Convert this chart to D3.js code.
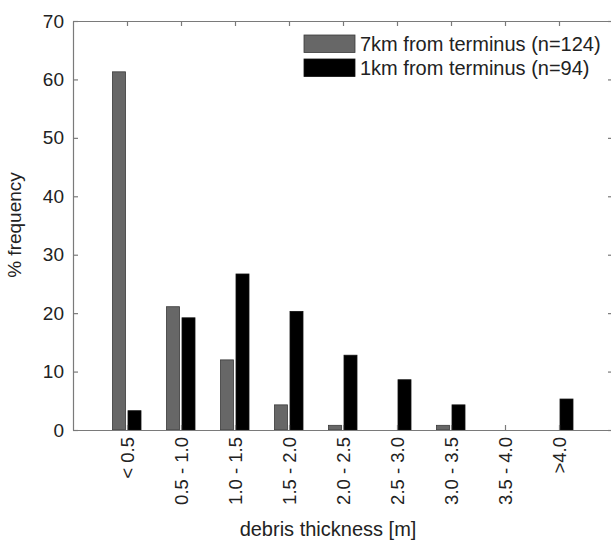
<!DOCTYPE html>
<html>
<head>
<meta charset="utf-8">
<script src="https://cdn.jsdelivr.net/npm/d3@7"></script>
<style>
  body { margin: 0; background: #fff; }
  text { font-family: "Liberation Sans", Arial, Helvetica, sans-serif; fill: #222; }
</style>
</head>
<body>
<div id="chart"></div>
<script>
var categories = ["< 0.5", "0.5 - 1.0", "1.0 - 1.5", "1.5 - 2.0", "2.0 - 2.5", "2.5 - 3.0", "3.0 - 3.5", "3.5 - 4.0", ">4.0"];
var series_7km = [61.3, 21.1, 12.0, 4.3, 0.8, 0, 0.8, 0, 0];
var series_1km = [3.3, 19.2, 26.7, 20.3, 12.8, 8.6, 4.3, 0, 5.3];
var series_names = ["7km from terminus (n=124)", "1km from terminus (n=94)"];
var y_ticks = [0, 10, 20, 30, 40, 50, 60, 70];

var axis_color = '#7a7a7a';
var fill_grey = '#676767';
var fill_black = '#000';

var width = 611, height = 543;
var plot_left = 73, plot_right = 613, plot_top = 21, plot_bottom = 430;
var bar_w = 13;

var svg = d3.select("#chart").append("svg")
    .attr("width", width).attr("height", height);

var x = d3.scaleLinear().domain([0, categories.length + 1]).range([plot_left, plot_right]);
var y = d3.scaleLinear().domain([0, 70]).range([plot_bottom, plot_top]);
var idx = categories.map(function(d, i) { return i + 1; });

// bars
var bars = svg.append("g");
bars.selectAll("rect.s7").data(series_7km.map(function(v, i) { return {v: v, i: i + 1}; }).filter(function(d) { return d.v > 0; }))
  .enter().append("rect").attr("class", "s7")
    .attr("x", function(d) { return x(d.i) - bar_w - 1.5; })
    .attr("width", bar_w)
    .attr("y", function(d) { return y(d.v); })
    .attr("height", function(d) { return y(0) - y(d.v); })
    .attr("fill", fill_grey).attr("stroke", "#3a3a3a").attr("stroke-width", 0.8);
bars.selectAll("rect.s1").data(series_1km.map(function(v, i) { return {v: v, i: i + 1}; }).filter(function(d) { return d.v > 0; }))
  .enter().append("rect").attr("class", "s1")
    .attr("x", function(d) { return x(d.i) + 1; })
    .attr("width", bar_w)
    .attr("y", function(d) { return y(d.v); })
    .attr("height", function(d) { return y(0) - y(d.v); })
    .attr("fill", fill_black).attr("stroke", "#111").attr("stroke-width", 0.8);

// axes (inward ticks)
function style_axis(g) {
  g.select(".domain").attr("stroke", axis_color).attr("stroke-width", 1.2);
  g.selectAll(".tick line").attr("stroke", axis_color).attr("stroke-width", 1.2);
  g.selectAll("text").attr("fill", "#222").style("font-size", "19px").attr("font-family", null);
}

var xb = svg.append("g").attr("transform", "translate(0," + plot_bottom + ")")
  .call(d3.axisBottom(x).tickValues(idx).tickFormat(function(d) { return categories[d - 1]; })
        .tickSizeInner(-5).tickSizeOuter(0).tickPadding(7))
  .call(style_axis);
xb.selectAll("text")
  .attr("transform", "rotate(-90)")
  .attr("text-anchor", "end")
  .attr("x", -7).attr("y", 0).attr("dy", "0.35em")
  .style("font-size", "18.5px");

svg.append("g").attr("transform", "translate(0," + plot_top + ")")
  .call(d3.axisTop(x).tickValues(idx).tickFormat("").tickSizeInner(-5).tickSizeOuter(0))
  .call(style_axis);

svg.append("g").attr("transform", "translate(" + plot_left + ",0)")
  .call(d3.axisLeft(y).tickValues(y_ticks).tickSizeInner(-5).tickSizeOuter(0).tickPadding(9))
  .call(style_axis);

svg.append("g").attr("transform", "translate(" + plot_right + ",0)")
  .call(d3.axisRight(y).tickValues(y_ticks).tickFormat("").tickSizeInner(-5).tickSizeOuter(0))
  .call(style_axis);

// legend
var legend = svg.append("g").attr("transform", "translate(304,35)");
var fills = [fill_grey, fill_black];
series_names.forEach(function(name, i) {
  legend.append("rect")
    .attr("x", 0).attr("y", i * 24).attr("width", 51).attr("height", 17.5)
    .attr("fill", fills[i]).attr("stroke", i ? "#111" : "#3a3a3a").attr("stroke-width", 0.8);
  legend.append("text")
    .attr("x", 56).attr("y", i * 24 + 15.5)
    .style("font-size", "20px")
    .text(name);
});

// axis labels
svg.append("text")
  .attr("x", 328).attr("y", 536)
  .attr("text-anchor", "middle")
  .style("font-size", "20px")
  .text("debris thickness [m]");

svg.append("text")
  .attr("transform", "translate(21,225) rotate(-90)")
  .attr("text-anchor", "middle")
  .style("font-size", "19px")
  .text("% frequency");
</script>
</body>
</html>
